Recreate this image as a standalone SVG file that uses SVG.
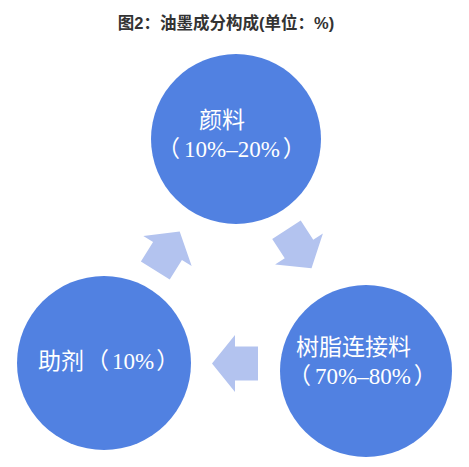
<svg xmlns="http://www.w3.org/2000/svg" width="469" height="467" viewBox="0 0 469 467">
<style>
.title{font-family:"Liberation Sans","Noto Sans CJK SC",sans-serif;font-size:16.5px;font-weight:bold;fill:#333333}
.node{fill:#5181E1}
.lbl{font-family:"Liberation Serif","Noto Sans CJK SC",serif;font-size:23px;fill:#ffffff}
.arrow{fill:#B3C3EF}
</style>
<defs>
<polygon id="blk" points="23,0 0,-28.5 0,-17 -23,-17 -23,17 0,17 0,28.5"/>
</defs>
<rect width="469" height="467" fill="#ffffff"/>
<text class="title" x="226" y="29" text-anchor="middle">图2：油墨成分构成(单位：%)</text>
<g id="connectors">
<use href="#blk" class="arrow" transform="translate(167.5,251) rotate(-58)"/>
<use href="#blk" class="arrow" transform="translate(299,249) rotate(57)"/>
<use href="#blk" class="arrow" transform="translate(235,363.5) rotate(180)"/>
</g>
<g id="pigment">
<circle class="node" cx="236" cy="139" r="85"/>
<text class="lbl" x="199" y="128">颜料</text>
<text class="lbl" x="157" y="157">（<tspan dx="4">10%–20%</tspan><tspan dx="3">）</tspan></text>
</g>
<g id="resin">
<circle class="node" cx="366" cy="371" r="86"/>
<text class="lbl" x="296" y="355">树脂连接料</text>
<text class="lbl" x="288" y="384">（<tspan dx="4">70%–80%</tspan><tspan dx="3">）</tspan></text>
</g>
<g id="additive">
<circle class="node" cx="104" cy="363" r="87"/>
<text class="lbl" x="38" y="369">助剂<tspan dx="2">（</tspan><tspan dx="3">10%</tspan><tspan dx="2">）</tspan></text>
</g>
</svg>
